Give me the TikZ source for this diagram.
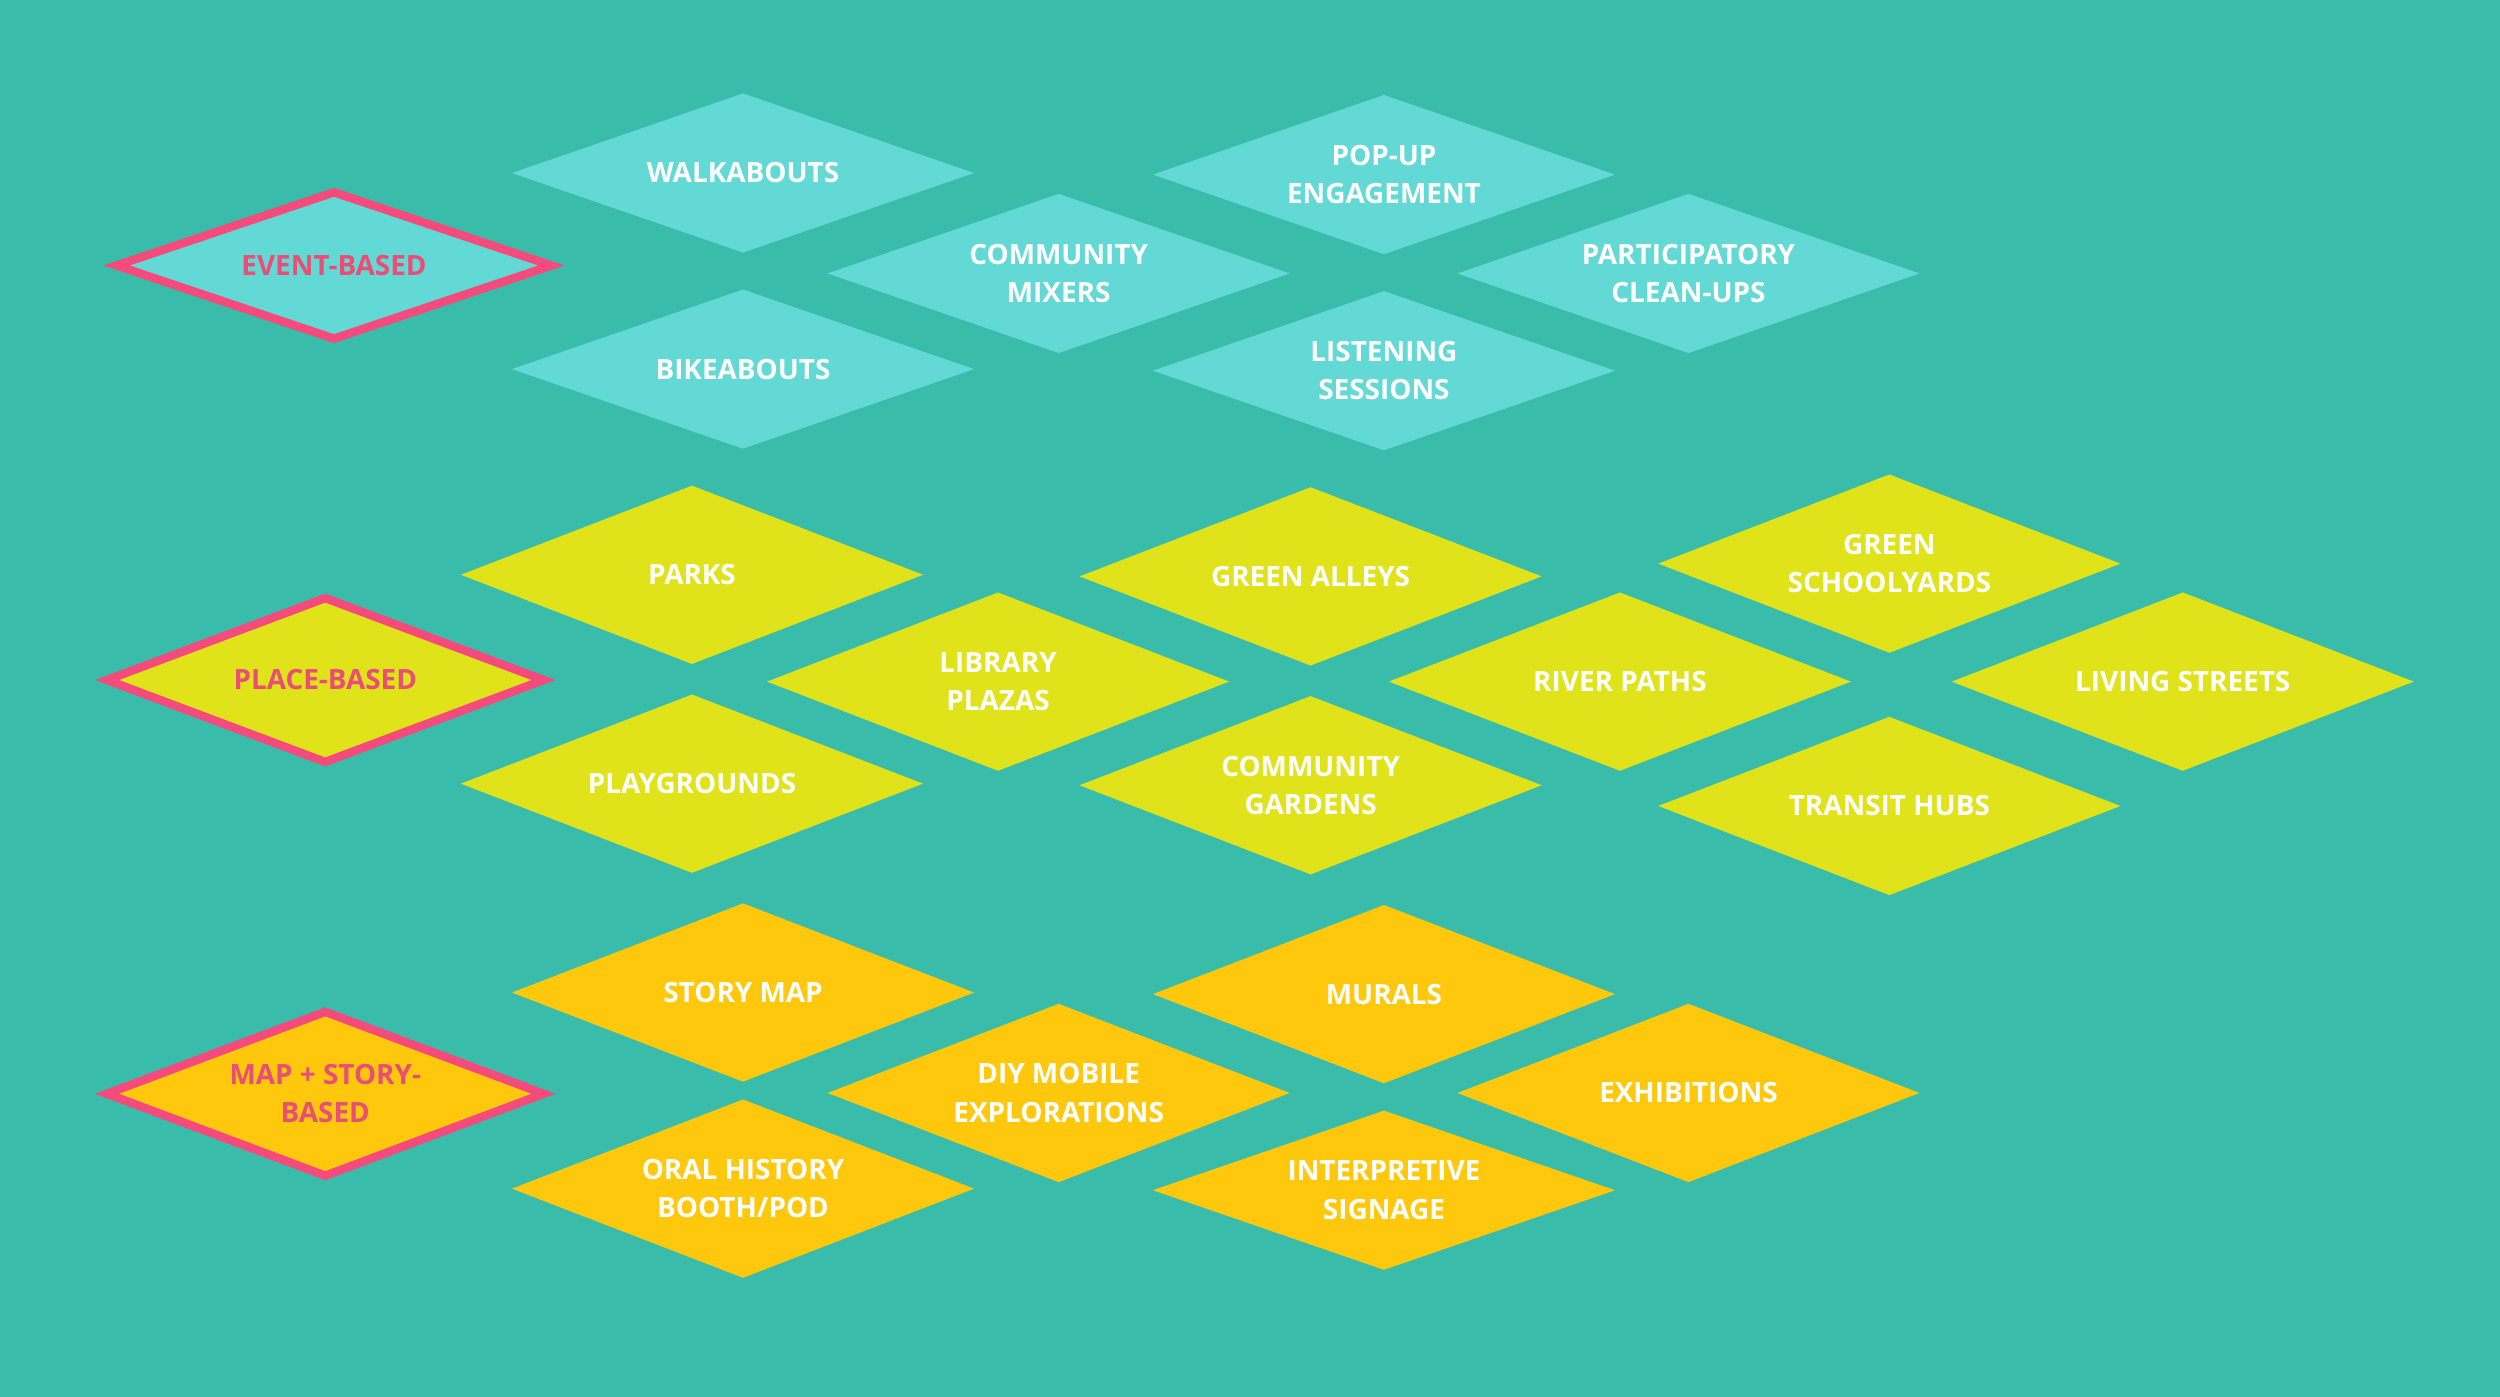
\documentclass[tikz,border=0pt]{standalone}
\usepackage{fontspec}
\setmainfont{Open Sans}
\usepackage{xcolor}
\usetikzlibrary{shapes.geometric,positioning}

\definecolor{bgteal}{RGB}{57,189,170}
\definecolor{eventcyan}{RGB}{99,217,213}
\definecolor{placelime}{RGB}{224,226,26}
\definecolor{storyamber}{RGB}{255,200,12}
\definecolor{catpink}{RGB}{244,74,124}
\definecolor{catpinktext}{RGB}{234,78,118}

\begin{document}
\begin{tikzpicture}[
  x=1pt, y=-1pt,
  font=\fontsize{17.5}{24}\selectfont\bfseries,
  gem/.style={diamond, aspect=2.9, inner sep=0pt, minimum width=290pt,
              minimum height=112pt, align=center, text=white},
  eventgem/.style={gem, fill=eventcyan, minimum height=100pt},
  placegem/.style={gem, fill=placelime},
  storygem/.style={gem, fill=storyamber},
  catgem/.style={draw=catpink, line width=5.3pt, text=catpinktext,
                 minimum width=276pt, minimum height=105pt},
]
\fill[bgteal] (0,0) rectangle (1568,876);
\useasboundingbox (0,0) rectangle (1568,876);

\node[eventgem, catgem, minimum width=275pt, minimum height=94pt] (eventcat) at (209.5,166.5) {EVENT-BASED};
\node[placegem, catgem] (placecat) at (204,426.5) {PLACE-BASED};
\node[storygem, catgem] (storycat) at (204,686) {MAP + STORY-\\BASED};

\node[eventgem] (walk) at (466,108.5) {WALKABOUTS};
\node[eventgem] (mixers) at (664,171.5) {COMMUNITY\\MIXERS};
\node[eventgem] (bike) at (466,231.5) {BIKEABOUTS};
\node[eventgem] (popup) at (868,109.5) {POP-UP\\ENGAGEMENT};
\node[eventgem] (cleanup) at (1059,171.5) {PARTICIPATORY\\CLEAN-UPS};
\node[eventgem] (listen) at (868,232.5) {LISTENING\\SESSIONS};

\node[placegem] (parks) at (434,360.5) {PARKS};
\node[placegem] (playgrounds) at (434,491.5) {PLAYGROUNDS};
\node[placegem] (plazas) at (626,427.5) {LIBRARY\\PLAZAS};
\node[placegem] (alleys) at (822,361.5) {GREEN ALLEYS};
\node[placegem] (gardens) at (822,492.5) {COMMUNITY\\GARDENS};
\node[placegem] (rivers) at (1016,427.5) {RIVER PATHS};
\node[placegem] (schoolyards) at (1185,353.5) {GREEN\\SCHOOLYARDS};
\node[placegem] (transit) at (1185,505.5) {TRANSIT HUBS};
\node[placegem] (streets) at (1369,427.5) {LIVING STREETS};

\node[storygem] (storymap) at (466,622.5) {STORY MAP};
\node[storygem] (oralhistory) at (466,745.5) {ORAL HISTORY\\BOOTH/POD};
\node[storygem] (diy) at (664,685.5) {DIY MOBILE\\EXPLORATIONS};
\node[storygem] (murals) at (868,623.5) {MURALS};
\node[storygem, minimum height=100pt] (signage) at (868,746.5) {INTERPRETIVE\\SIGNAGE};
\node[storygem] (exhibitions) at (1059,685.5) {EXHIBITIONS};

\end{tikzpicture}
\end{document}
